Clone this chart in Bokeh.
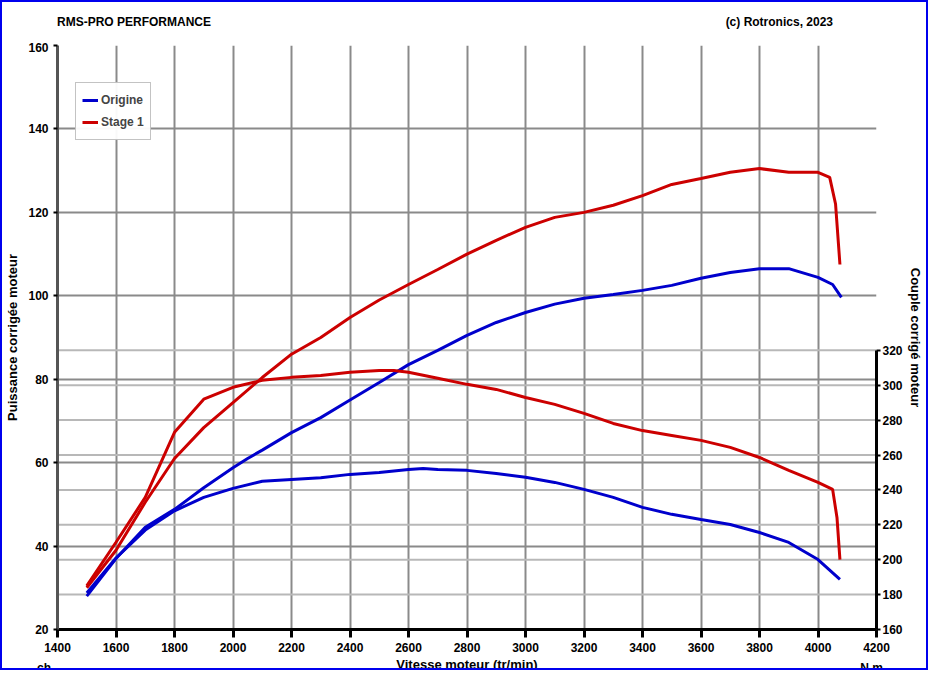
from bokeh.plotting import figure
from bokeh.models import LinearAxis, Range1d, FixedTicker, Legend, LegendItem, Div
from bokeh.layouts import column
from bokeh.embed import file_html
from bokeh.resources import INLINE

rpm_ps = [1500,1600,1700,1800,1900,2000,2100,2200,2300,2400,2500,2600,2700,2800,2900,3000,3100,3200,3300,3400,3500,3600,3700,3800,3900,4000,4040,4060,4075]
power_stage1 = [30,39,50.5,61,68.4,74.4,80.4,86,90,94.8,99,102.7,106.3,110,113.3,116.4,118.8,120,121.7,124,126.7,128.1,129.6,130.5,129.6,129.6,128.4,122,107.5]
rpm_po = [1500,1600,1700,1800,1900,2000,2050,2100,2200,2300,2400,2500,2600,2700,2800,2900,3000,3100,3200,3300,3400,3500,3600,3700,3800,3900,4000,4050,4080]
power_origine = [28,37,44.5,48.8,54,58.8,61,63,67.2,70.8,75,79.2,83.5,86.9,90.5,93.6,96,98,99.4,100.3,101.3,102.5,104.2,105.6,106.5,106.5,104.4,102.7,99.6]
rpm_ts = [1500,1600,1700,1800,1900,2000,2100,2200,2300,2400,2500,2550,2600,2700,2800,2900,3000,3100,3200,3300,3400,3500,3600,3700,3800,3900,4000,4050,4065,4075]
torque_stage1 = [185,210,235.7,273,292,298.8,302.8,304.5,305.6,307.4,308.5,308.5,307.4,304,300.5,297.6,293,289,283.9,278.1,274,271.2,268.4,264.4,258.6,251.2,244.3,240.3,224,200]
rpm_to = [1500,1600,1700,1800,1900,2000,2100,2200,2300,2400,2500,2600,2650,2700,2800,2900,3000,3100,3200,3300,3400,3500,3600,3700,3800,3900,4000,4075]
torque_origine = [181,201,217,228,235.7,240.9,245,246,247,248.9,250,251.7,252.3,251.7,251.2,249.4,247.2,244.3,240.3,235.7,230,226,223,220.2,215.6,209.9,200.1,188.7]
x_ticks = list(range(1400, 4201, 200))
left_ticks = list(range(20, 161, 20))
right_ticks = list(range(160, 321, 20))

F = "Liberation Sans"
p = figure(width=928, height=640, output_backend="svg", toolbar_location=None,
           x_range=Range1d(1400, 4200), y_range=Range1d(20, 160),
           min_border_left=50, min_border_right=50, min_border_top=3, min_border_bottom=53)
p.outline_line_color = None
p.extra_y_ranges = {"t": Range1d(160, 494.7)}

for ax in (p.xaxis[0], p.yaxis[0]):
    ax.major_label_text_font = F
    ax.major_label_text_font_style = "bold"
    ax.major_label_text_font_size = "12px"
    ax.major_label_text_color = "black"
    ax.minor_tick_line_color = None
    ax.axis_label_text_font = F
    ax.axis_label_text_font_style = "bold"
    ax.axis_label_text_font_size = "13px"
    ax.axis_label_text_color = "black"
p.xaxis.ticker = FixedTicker(ticks=x_ticks)
p.yaxis.ticker = FixedTicker(ticks=left_ticks)
p.xaxis.axis_label = "Vitesse moteur (tr/min)"
p.yaxis.axis_label = "Puissance corrigée moteur"
p.xaxis.axis_line_width = 3
p.xaxis.major_tick_line_width = 3
p.xaxis.major_tick_out = 8
p.xaxis.major_tick_in = 0
p.xaxis.axis_label_standoff = 2
p.yaxis.axis_line_width = 3
p.yaxis.axis_line_color = "#555555"
p.yaxis.major_tick_out = 4
p.yaxis.major_tick_in = 0
p.yaxis.major_tick_line_width = 2
p.grid.grid_line_color = "#8a8a8a"
p.grid.grid_line_width = 2

p.segment(x0=[x_ticks[0]]*len(right_ticks), x1=[x_ticks[-1]]*len(right_ticks), y0=right_ticks, y1=right_ticks,
          y_range_name="t", line_color="#b8b8b8", line_width=2)

ra = LinearAxis(y_range_name="t", ticker=FixedTicker(ticks=right_ticks), bounds=(160, 320),
                axis_label="Couple corrigé moteur")
ra.axis_line_width = 3
ra.major_tick_out = 4
ra.major_tick_in = 0
ra.major_tick_line_width = 2
ra.minor_tick_line_color = None
ra.major_label_standoff = 2
ra.axis_label_standoff = 2
ra.major_label_text_font = F
ra.major_label_text_font_style = "bold"
ra.major_label_text_font_size = "12px"
ra.major_label_text_color = "black"
ra.axis_label_text_font = F
ra.axis_label_text_font_style = "bold"
ra.axis_label_text_font_size = "13px"
ra.axis_label_text_color = "black"
p.add_layout(ra, "right")

r1 = p.line(rpm_po, power_origine, line_color="#0000cc", line_width=3)
r2 = p.line(rpm_ps, power_stage1, line_color="#cc0000", line_width=3)
p.line(rpm_to, torque_origine, line_color="#0000cc", line_width=3, y_range_name="t")
p.line(rpm_ts, torque_stage1, line_color="#cc0000", line_width=3, y_range_name="t")

lg = Legend(items=[LegendItem(label="Origine", renderers=[r1]), LegendItem(label="Stage 1", renderers=[r2])],
            location=(18, 489), label_text_font=F, label_text_font_style="bold", label_text_font_size="12px",
            glyph_width=16, spacing=0, padding=6, margin=0, border_line_color="#888888",
            label_standoff=3, label_height=22, glyph_height=22)
p.add_layout(lg, "center")

hdr = Div(width=928, height=30, text=(
    "<div style='display:flex;justify-content:space-between;width:826px;padding:8px 0 0 50px;"
    "font:bold 12px \"Liberation Sans\";color:black'><span>RMS-PRO PERFORMANCE</span>"
    "<span>(c) Rotronics, 2023</span></div>"))
ftr = Div(width=928, height=18, styles={"margin-top": "-22px"}, text=(
    "<div style='display:flex;justify-content:space-between;width:876px;padding:0 0 0 30px;"
    "font:bold 12px \"Liberation Sans\";color:black'><span>ch</span><span>N.m</span></div>"))

lay = column(hdr, p, ftr, spacing=0)
lay.styles = {"border": "2px solid #0000ee", "width": "928px", "height": "670px", "overflow": "hidden"}

open("out.html", "w").write(file_html(lay, INLINE))
